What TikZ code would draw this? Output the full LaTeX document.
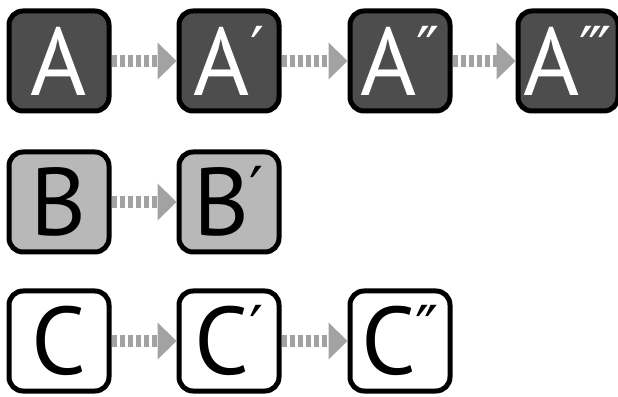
\documentclass[tikz,border=0pt]{standalone}
\usepackage{fontspec}
\setmainfont{PT Sans}
\newfontfamily\primefont{DejaVu Sans}
\usetikzlibrary{arrows.meta}
\definecolor{boxdark}{RGB}{77,77,77}
\definecolor{boxlight}{RGB}{184,184,184}
\definecolor{flowgray}{RGB}{162,162,162}
\newcommand\prm[1]{\smash{\raisebox{24pt}{\primefont\fontsize{62}{62}\selectfont #1}}}

\begin{document}
\begin{tikzpicture}[x=1pt,y=1pt,
  box/.style={draw,line width=5pt,rounded corners=14pt,minimum size=100pt,
    inner sep=0pt,font=\fontsize{96}{96}\selectfont},
  darkbox/.style={box,fill=boxdark,text=white},
  lightbox/.style={box,fill=boxlight},
  whitebox/.style={box,fill=white},
  flow/.style={flowgray,line width=12pt,dash pattern=on 5pt off 3pt,
    -{Triangle[length=19pt,width=36pt]}}]
  \useasboundingbox (0,0) rectangle (618,396);

  % row A
  \node[darkbox] (a0) at (59,335) {A};
  \node[darkbox] (a1) at (229,335) {A\prm{′}};
  \node[darkbox] (a2) at (400,335) {A\prm{″}};
  \node[darkbox] (a3) at (568,335) {A\prm{‴}};

  % row B
  \node[lightbox] (b0) at (59,194) {B};
  \node[lightbox] (b1) at (229,194) {B\prm{′}};

  % row C
  \node[whitebox] (c0) at (59,55) {C};
  \node[whitebox] (c1) at (229,55) {C\prm{′}};
  \node[whitebox] (c2) at (400,55) {C\prm{″}};

  % arrows
  \draw[flow] (a0) -- (a1);
  \draw[flow] (a1) -- (a2);
  \draw[flow] (a2) -- (a3);
  \draw[flow] (b0) -- (b1);
  \draw[flow] (c0) -- (c1);
  \draw[flow] (c1) -- (c2);
\end{tikzpicture}
\end{document}
